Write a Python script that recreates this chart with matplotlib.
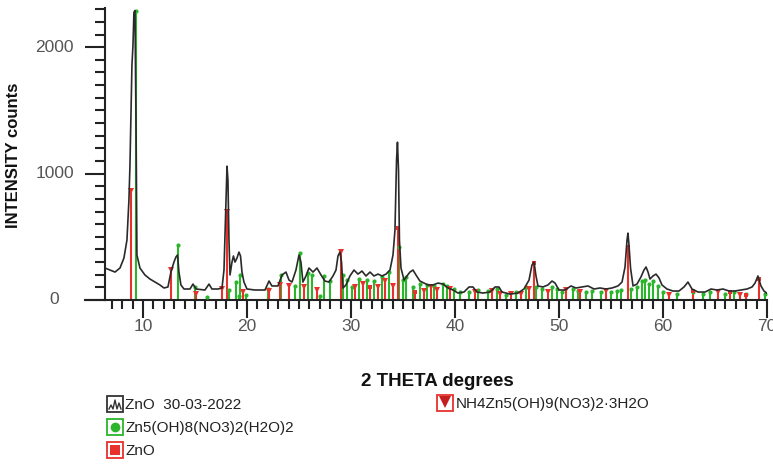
import matplotlib
matplotlib.use("Agg")
import matplotlib.pyplot as plt
from matplotlib.patches import Rectangle

plt.rcParams['font.family'] = ['Liberation Sans', 'DejaVu Sans']

# measured pattern (2theta, counts)
two_theta = [6.35, 7.31, 7.79, 8.17, 8.46, 8.65, 8.75, 8.85, 8.94, 9.04, 9.13, 9.23, 9.33,
             9.42, 9.71, 10.19, 10.67, 11.15, 11.63, 12.02, 12.40, 12.69, 12.98, 13.17, 13.32,
             13.46, 13.65, 13.94, 14.52, 14.81, 15.10, 15.96, 16.35, 16.63, 17.21, 17.60, 17.79,
             17.98, 18.08, 18.17, 18.27, 18.37, 18.56, 18.70, 18.85, 19.04, 19.23, 19.38, 19.52,
             19.71, 20.0, 20.77, 21.73, 22.12, 22.40, 22.98, 23.37, 23.75, 24.04, 24.33, 24.71,
             25.0, 25.19, 25.38, 25.67, 25.96, 26.35, 26.73, 27.12, 27.50, 27.88, 28.27, 28.56,
             28.75, 28.94, 29.09, 29.23, 29.52, 29.90, 30.29, 30.67, 31.06, 31.44, 31.83, 32.21,
             32.60, 32.98, 33.37, 33.75, 34.04, 34.23, 34.38, 34.47, 34.57, 34.66, 34.81, 35.10,
             35.38, 35.67, 35.96, 36.25, 36.63, 37.02, 37.40, 37.88, 38.37, 38.85, 39.33, 39.81,
             40.29, 40.87, 41.35, 41.73, 42.12, 42.69, 43.37, 43.85, 44.23, 44.52, 45.29, 46.06,
             46.63, 47.12, 47.40, 47.60, 47.79, 47.98, 48.46, 48.94, 49.33, 49.62, 50.0, 50.58,
             51.15, 51.63, 52.21, 52.79, 53.37, 53.94, 54.52, 55.10, 55.67, 56.06, 56.35, 56.54,
             56.63, 56.73, 56.88, 57.12, 57.50, 57.88, 58.17, 58.37, 58.56, 58.75, 59.04, 59.33,
             59.62, 59.90, 60.38, 60.96, 61.54, 62.02, 62.40, 62.79, 63.37, 64.04, 64.62, 65.19,
             65.77, 66.35, 66.92, 67.50, 68.08, 68.56, 68.85, 69.13, 69.42, 69.71, 70.1]
counts = [253, 221, 253, 332, 474, 790, 1066, 1500, 1857, 2015, 2275, 2290, 1420,
          355, 253, 198, 166, 142, 119, 95, 103, 221, 300, 340, 356,
          221, 119, 87, 87, 126, 87, 79, 126, 87, 87, 95, 237,
          790, 1059, 948, 474, 198, 300, 348, 300, 332, 379, 348, 221,
          142, 87, 79, 79, 150, 111, 111, 198, 221, 158, 142, 237,
          356, 300, 142, 190, 253, 221, 253, 198, 150, 142, 190, 237,
          348, 379, 300, 95, 119, 190, 237, 205, 229, 190, 221, 190,
          205, 190, 205, 237, 356, 553, 1106, 1248, 1027, 474, 253, 158,
          190, 221, 237, 198, 150, 134, 119, 119, 134, 126, 95, 79,
          55, 63, 103, 103, 63, 55, 63, 103, 103, 63, 47, 55,
          87, 158, 276, 300, 190, 111, 103, 119, 150, 134, 79, 79,
          111, 95, 103, 111, 87, 95, 87, 95, 111, 142, 261, 474,
          529, 435, 253, 111, 126, 182, 237, 261, 221, 166, 190, 205,
          174, 119, 87, 71, 71, 103, 142, 87, 63, 63, 87, 79,
          87, 71, 71, 79, 87, 103, 134, 190, 111, 71, 47]

# Zn5(OH)8(NO3)2(H2O)2 reference lines
hn_pos = [9.3, 13.4, 15.0, 16.2, 18.3, 18.9, 19.3, 19.2, 19.9, 22.0, 23.3, 24.6, 25.1, 25.9,
          26.3, 27.0, 27.4, 28.0, 29.2, 29.6, 30.1, 30.8, 31.5, 32.2, 33.0, 33.7, 34.6,
          35.0, 35.3, 36.0, 36.6, 37.3, 38.0, 38.8, 39.2, 39.9, 40.5, 41.3, 42.2, 43.2,
          44.0, 44.9, 45.9, 46.8, 47.8, 48.4, 49.3, 49.8, 50.3, 51.3, 51.8, 52.6, 53.2,
          54.0, 55.0, 55.6, 56.0, 56.9, 57.5, 58.0, 58.3, 58.7, 59.0, 59.5, 60.0, 61.3,
          62.9, 63.8, 64.5, 66.0, 66.8, 68.0, 69.8]
hn_int = [2290, 435, 100, 25, 80, 140, 200, 30, 40, 87, 200, 110, 370, 210,
          200, 30, 190, 150, 200, 160, 100, 170, 160, 150, 180, 220, 420,
          160, 180, 100, 130, 120, 110, 130, 110, 90, 60, 60, 80, 70,
          90, 40, 60, 100, 100, 90, 100, 90, 60, 90, 70, 60, 70,
          60, 60, 70, 80, 90, 100, 150, 160, 130, 150, 110, 60, 50,
          60, 50, 60, 50, 60, 50, 50]

# ZnO reference lines
zno_pos = [31.8, 34.5, 36.2, 47.6, 56.6, 62.9, 66.4, 68.0, 69.2]
zno_int = [100, 570, 60, 290, 420, 70, 60, 40, 170]

# NH4Zn5(OH)9(NO3)2.3H2O reference lines
nh_pos = [8.85, 12.7, 15.1, 17.6, 18.1, 19.6, 22.1, 23.2, 24.0, 25.5, 26.7, 29.0, 30.4,
          31.2, 32.6, 33.3, 34.0, 37.0, 37.7, 38.3, 39.5, 41.9, 43.6, 44.3, 45.4, 46.3,
          47.1, 48.9, 50.7, 52.0, 54.5, 60.6, 65.3, 67.4]
nh_int = [860, 237, 50, 85, 700, 60, 70, 120, 110, 100, 80, 380, 100,
          130, 100, 150, 110, 70, 100, 80, 90, 60, 70, 50, 50, 50,
          90, 60, 80, 60, 70, 40, 60, 40]

GREEN = '#2bb52b'
RED = '#e8302c'
DARKRED = '#c41e1e'

W, H = 773, 466
fig = plt.figure(figsize=(W / 100, H / 100), dpi=100)
ax = fig.add_axes([105 / W, 1 - 300 / H, (767 - 105) / W, 292 / H])

ax.vlines(hn_pos, 0, hn_int, color=GREEN, lw=1.5, zorder=2)
ax.plot(hn_pos, hn_int, 'o', color=GREEN, ms=3, mew=0, zorder=3)
ax.vlines(nh_pos, 0, nh_int, color=RED, lw=1.5, zorder=2)
ax.plot(nh_pos, nh_int, 'v', color=RED, ms=4, mew=0, zorder=3)
ax.vlines(zno_pos, 0, zno_int, color=RED, lw=1.5, zorder=2)
ax.plot(zno_pos, zno_int, 's', color=RED, ms=3.5, mew=0, zorder=3)
ax.plot(two_theta, counts, color='#2a2a2a', lw=1.2, zorder=4)

ax.set_xlim(6.35, 70.0)
ax.set_ylim(0, 2310)
for s in ['top', 'right']:
    ax.spines[s].set_visible(False)
for s in ['left', 'bottom']:
    ax.spines[s].set_linewidth(1.5)
    ax.spines[s].set_color('#222222')

ax.set_xticks(range(10, 71, 10))
ax.set_xticks(range(7, 71), minor=True)
ax.set_yticks([0, 1000, 2000])
ax.set_yticks(range(0, 2301, 100), minor=True)
ax.tick_params(axis='x', which='major', length=13, width=1.5, color='#222222',
               labelsize=12.5, labelcolor='#555555', pad=1)
ax.tick_params(axis='x', which='minor', length=6.5, width=1.5, color='#222222')
ax.tick_params(axis='y', which='major', length=14.4, width=1.5, color='#222222',
               labelsize=12.5, labelcolor='#555555', pad=22)
ax.tick_params(axis='y', which='minor', length=7.2, width=1.5, color='#222222')
plt.setp(ax.get_yticklabels(), ha='center', va='center')

# overlay in pixel coordinates for titles and legend
ov = fig.add_axes([0, 0, 1, 1], facecolor='none')
ov.set_xlim(0, W)
ov.set_ylim(H, 0)
ov.axis('off')

ov.plot([85, 105], [300, 300], color='#222222', lw=1.5)
ov.text(14, 155, 'INTENSITY counts', rotation=90, ha='center', va='center',
        fontsize=12, fontweight='bold', color='#111111')
ov.text(437, 381, '2 THETA degrees', ha='center', va='center',
        fontsize=13.5, fontweight='bold', color='#111111')

def legend_box(x, y, edge):
    ov.add_patch(Rectangle((x, y), 16, 16, fill=False, edgecolor=edge, lw=1.3))

legend_box(107, 396, '#333333')
ov.plot([109, 111, 113, 115, 117, 119, 121], [409, 405, 409, 400, 409, 403, 409],
        color='#333333', lw=1)
ov.text(125, 405, 'ZnO  30-03-2022', va='center', fontsize=11, color='#222222')

legend_box(107, 419, GREEN)
ov.plot([115], [427], 'o', color=GREEN, ms=7, mew=0)
ov.text(125, 428, 'Zn5(OH)8(NO3)2(H2O)2', va='center', fontsize=11, color='#222222')

legend_box(107, 442, RED)
ov.plot([115], [450], 's', color=RED, ms=7, mew=0)
ov.text(125, 451, 'ZnO', va='center', fontsize=11, color='#222222')

legend_box(437, 395, RED)
ov.plot([445], [402], 'v', color=DARKRED, ms=8, mew=0)
ov.text(456, 404, 'NH4Zn5(OH)9(NO3)2·3H2O', va='center', fontsize=11, color='#222222')

fig.savefig('out.png', dpi=100)
